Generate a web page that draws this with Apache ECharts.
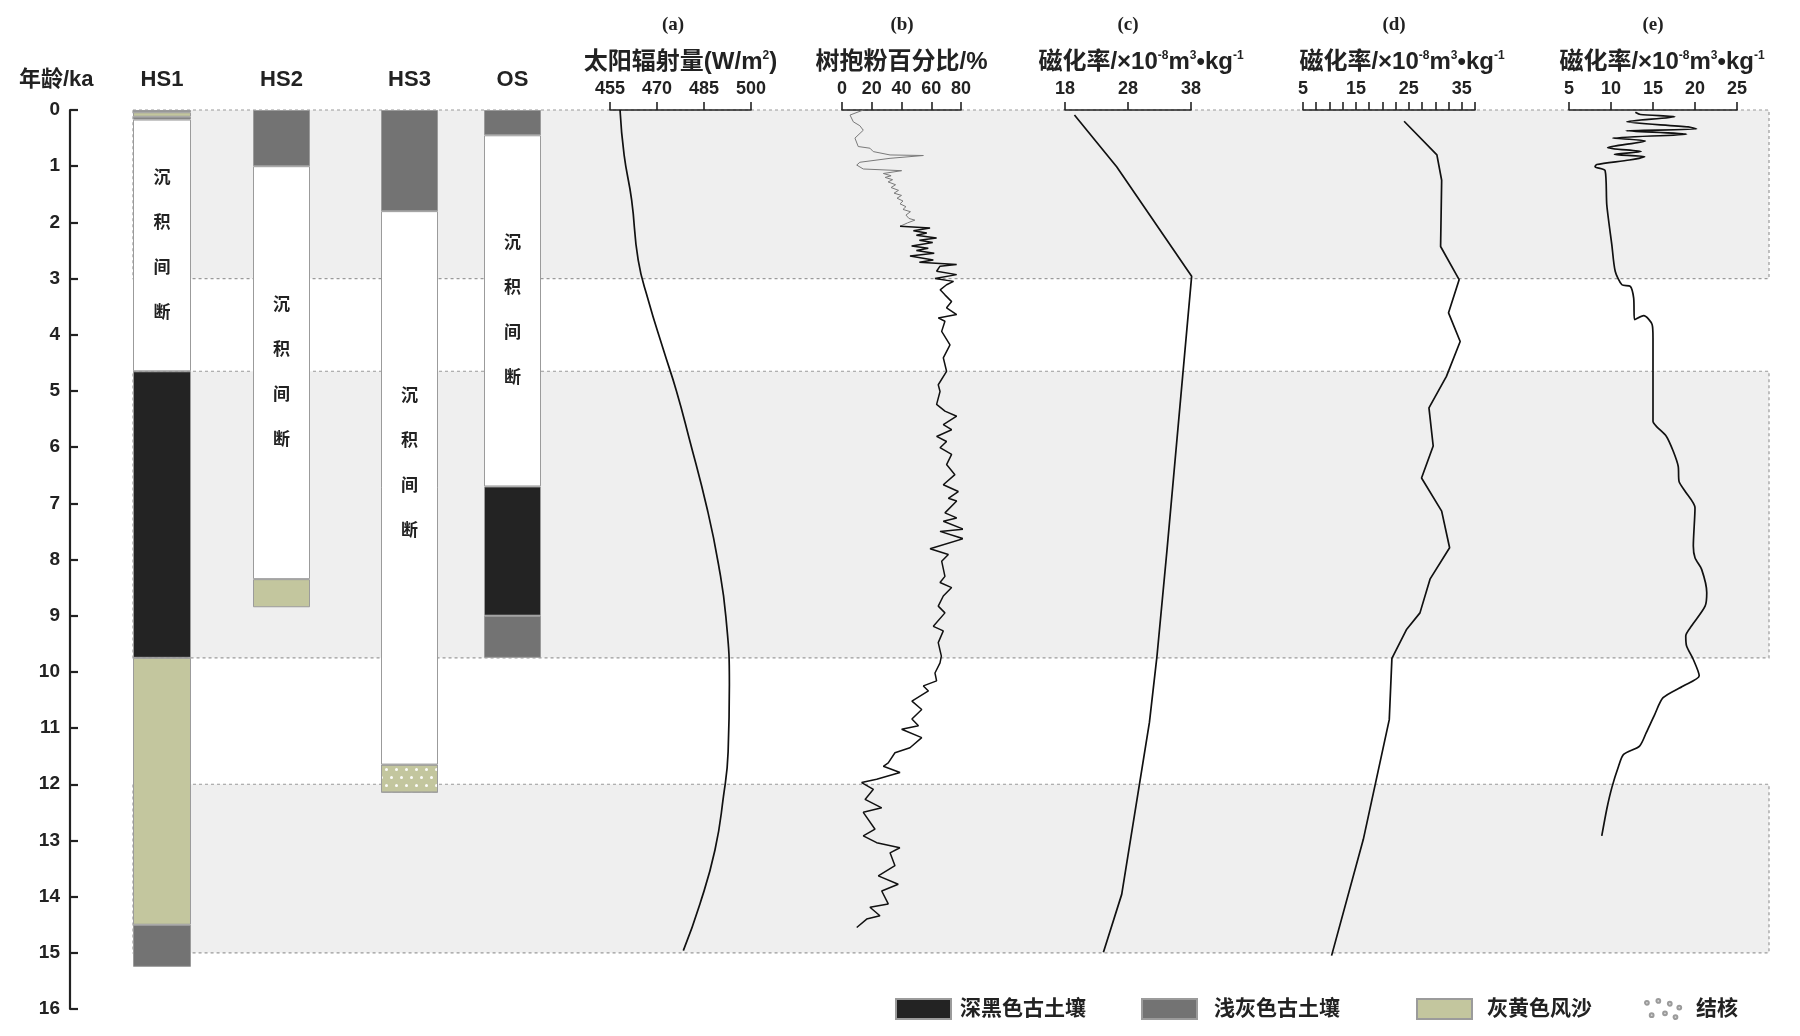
<!DOCTYPE html>
<html>
<head>
<meta charset="utf-8">
<title>剖面对比</title>
<script src="https://cdn.jsdelivr.net/npm/echarts@6/dist/echarts.min.js"></script>
<style>
  html, body { margin: 0; padding: 0; background: #fff; }
  #main { width: 1800px; height: 1036px; }
</style>
</head>
<body>
<div id="main"></div>
<script>
// ---- data ----
// soil columns: [type, top age (ka), bottom age (ka)]
const columnNames = ['HS1', 'HS2', 'HS3', 'OS']
const hs1Layers = [['gray', 0, 0.04], ['khaki', 0.04, 0.12], ['gray', 0.12, 0.17], ['gap', 0.17, 4.65],
  ['black', 4.65, 9.75], ['khaki', 9.75, 14.5], ['gray', 14.5, 15.25]]
const hs2Layers = [['gray', 0, 1.0], ['gap', 1.0, 8.35], ['khaki', 8.35, 8.85]]
const hs3Layers = [['gray', 0, 1.8], ['gap', 1.8, 11.65], ['nodule', 11.65, 12.15]]
const osLayers = [['gray', 0, 0.45], ['gap', 0.45, 6.7], ['black', 6.7, 9.0], ['gray', 9.0, 9.75]]

// shaded age bands (ka)
const bands = [[0, 3], [4.65, 9.75], [12, 15]]

// (a) solar radiation [W/m2, ka]
const solar = [[458.2, 0], [459.5, 0.8], [461.9, 1.6], [464.0, 2.67], [467.2, 3.38], [472.0, 4.26],
  [476.2, 5.0], [480.3, 5.85], [486.1, 7.12], [489.6, 8.08], [492.0, 9.03], [493.1, 10.23],
  [492.7, 11.42], [491.2, 12.22], [488.5, 13.17], [483.7, 14.13], [478.4, 14.96]]

// (b) tree pollen % [%, ka], upper part drawn in grey
const pollenUpper = [[14.3, 0.0], [5.4, 0.09], [7.6, 0.21], [12, 0.28], [14.3, 0.36], [8.7, 0.5],
  [10.9, 0.65], [18.8, 0.68], [21, 0.74], [32.3, 0.8], [54.7, 0.81], [32.3, 0.86], [12, 0.93],
  [9.9, 0.98], [14.3, 1.05], [40.1, 1.08], [27.8, 1.13], [33, 1.17], [29, 1.2], [34, 1.24],
  [31, 1.28], [36, 1.33], [33, 1.38], [38, 1.43], [35, 1.48], [40, 1.52], [37, 1.57], [41, 1.62],
  [39, 1.67], [43, 1.72], [41, 1.77], [46, 1.81], [43, 1.87], [45, 1.93], [49, 1.96], [44, 2.01],
  [39, 2.07]]
const pollenLower = [[39, 2.07], [59.2, 2.1], [48, 2.15], [57, 2.19], [50, 2.23], [63.6, 2.28],
  [52, 2.32], [61, 2.36], [46.8, 2.42], [58, 2.46], [50, 2.5], [62, 2.55], [45.7, 2.6], [61.4, 2.67],
  [52, 2.71], [77.1, 2.75], [65.9, 2.78], [63.6, 2.87], [77.1, 2.93], [62.5, 3.0], [75, 3.05],
  [70.3, 3.11], [66, 3.2], [69.2, 3.29], [73.7, 3.41], [70.3, 3.52], [77.1, 3.64], [64.7, 3.7],
  [69.2, 3.76], [67, 3.94], [72.6, 4.18], [68.1, 4.41], [70.3, 4.65], [64.7, 4.89], [65.9, 5.01],
  [63.6, 5.24], [69.2, 5.36], [77.1, 5.45], [68.1, 5.6], [73.7, 5.69], [63.6, 5.81], [70.3, 5.9],
  [65.9, 6.01], [73.7, 6.13], [70.3, 6.31], [75.9, 6.49], [68.1, 6.67], [78.2, 6.79], [71.5, 6.91],
  [77.1, 6.96], [69.2, 7.17], [77.1, 7.26], [68.1, 7.32], [81.6, 7.46], [65.9, 7.5], [81.6, 7.63],
  [59.2, 7.81], [71.5, 7.91], [67, 8.03], [69.2, 8.3], [65.9, 8.41], [73.7, 8.5], [68.1, 8.65],
  [64.7, 8.83], [69.2, 8.95], [61.4, 9.19], [68.1, 9.27], [64.7, 9.48], [66.8, 9.72], [65.9, 9.84],
  [62.5, 10.02], [63.6, 10.16], [54.7, 10.25], [58.1, 10.34], [47, 10.52], [53.6, 10.67], [47, 10.84],
  [51.4, 10.96], [40.1, 11.02], [53.6, 11.17], [45.7, 11.35], [35.6, 11.44], [31.1, 11.62],
  [27.8, 11.68], [39, 11.79], [23.3, 11.91], [13.2, 11.97], [21.1, 12.09], [15.5, 12.27],
  [26.7, 12.42], [14.3, 12.5], [22.2, 12.8], [14.3, 12.92], [23.3, 13.04], [38.9, 13.13],
  [32.3, 13.22], [35.6, 13.45], [24.4, 13.63], [37.8, 13.78], [26.7, 13.9], [31.1, 14.13],
  [18.8, 14.19], [25.5, 14.34], [16.6, 14.4], [9.9, 14.55]]

// (c)(d)(e) magnetic susceptibility [1e-8 m3/kg, ka]
const suscC = [[19.5, 0.09], [26.2, 1.01], [38.1, 2.96], [34.2, 7.82], [32.6, 9.72], [31.4, 10.9],
  [27.0, 13.96], [24.1, 14.99]]
const suscD = [[24.1, 0.2], [30.3, 0.8], [31.2, 1.25], [31.0, 2.43], [34.5, 3.02], [32.5, 3.61],
  [34.7, 4.12], [32.1, 4.74], [28.8, 5.3], [29.6, 5.98], [27.4, 6.55], [31.2, 7.14], [32.7, 7.79],
  [29.0, 8.35], [27.1, 8.95], [24.6, 9.24], [21.8, 9.76], [21.3, 10.85], [16.4, 12.98], [10.4, 15.05]]
const suscE = [[12.9, 0.04], [13.5, 0.08], [17.6, 0.12], [11.9, 0.21], [19.2, 0.3], [20.2, 0.34],
  [11.8, 0.37], [19, 0.43], [10.2, 0.5], [14.1, 0.55], [9.6, 0.67], [13.6, 0.74], [10.4, 0.79],
  [14, 0.83], [12.2, 0.89], [8.3, 0.97], [8.1, 1.01], [9.3, 1.08], [9.5, 1.69], [10.1, 2.4],
  [10.5, 2.87], [11.3, 3.11], [12.3, 3.14], [12.7, 3.35], [12.8, 3.73], [13.9, 3.66], [14.9, 3.82],
  [15.0, 4.06], [15.0, 5.54], [15.4, 5.63], [16.6, 5.81], [17.4, 6.07], [18, 6.34], [18.1, 6.61],
  [18.8, 6.78], [20.0, 7.08], [19.8, 7.76], [20.0, 7.97], [20.8, 8.18], [21.4, 8.59], [21.2, 8.83],
  [19.6, 9.18], [18.9, 9.36], [19.0, 9.54], [19.8, 9.78], [20.5, 10.07], [18.6, 10.25], [16.2, 10.46],
  [15.2, 10.76], [14.2, 11.08], [13.4, 11.32], [11.5, 11.47], [10.9, 11.68], [10.1, 12.06],
  [9.5, 12.44], [8.9, 12.92]]

// axis ticks
const solarTicks = [455, 470, 485, 500]
const pollenTicks = [0, 20, 40, 60, 80]
const suscCTicks = [18, 28, 38]
const suscDTicks = [5, 7.5, 10, 12.5, 15, 17.5, 20, 22.5, 25, 27.5, 30, 32.5, 35, 37.5]
const suscDLabels = [5, 15, 25, 35]
const suscETicks = [5, 10, 15, 20, 25]

const legendNames = ['深黑色古土壤', '浅灰色古土壤', '灰黄色风沙', '结核']
const panelTitles = ['(a)', '(b)', '(c)', '(d)', '(e)']

// ---- styles ----
const FONT = "'Liberation Sans', 'Noto Sans CJK SC', sans-serif"
const INK = '#222'
const soilColor = { black: '#232323', gray: '#737373', khaki: '#c3c69e', nodule: '#c3c69e', gap: '#ffffff' }
const soilName = { black: legendNames[0], gray: legendNames[1], khaki: legendNames[2], nodule: legendNames[3], gap: '沉积间断' }
const nodDecal = { symbol: 'circle', symbolSize: 1, color: 'rgba(255,255,255,0.95)',
  dashArrayX: [[3, 7], [0, 5, 3, 2]], dashArrayY: [3, 5] }

const TOP = 110, BOTTOM = 27
const colBoxes = [[133, 58], [253, 57], [381, 57], [484, 57]]
const colLabelShift = [0, 0, -24, 0]
const panels = [
  { left: 610, width: 141, min: 455, max: 500, ticks: solarTicks, labels: solarTicks,
    name: '太阳辐射量(W/m{sup|2})', pad: 0 },
  { left: 842, width: 119, min: 0, max: 80, ticks: pollenTicks, labels: pollenTicks,
    name: '树抱粉百分比/%', pad: 0 },
  { left: 1065, width: 126, min: 18, max: 38, ticks: suscCTicks, labels: suscCTicks,
    name: '磁化率/×10{sup|-8}m{sup|3}•kg{sup|-1}', pad: 26 },
  { left: 1303, width: 172, min: 5, max: 37.5, ticks: suscDTicks, labels: suscDLabels,
    name: '磁化率/×10{sup|-8}m{sup|3}•kg{sup|-1}', pad: 26 },
  { left: 1569, width: 168, min: 5, max: 25, ticks: suscETicks, labels: suscETicks,
    name: '磁化率/×10{sup|-8}m{sup|3}•kg{sup|-1}', pad: 18 }
]

const chart = echarts.init(document.getElementById('main'))

const grid = [], xAxis = [], yAxis = [], series = []
const ageAxis = (i, show) => ({
  type: 'value', gridIndex: i, min: 0, max: 16, interval: 1, inverse: true, show: show,
  splitLine: { show: false },
  axisLine: { show: true, lineStyle: { color: INK, width: 2.2 } },
  axisTick: { show: true, inside: true, length: 8, lineStyle: { color: INK, width: 2.2 } },
  axisLabel: { color: INK, fontFamily: FONT, fontWeight: 'bold', fontSize: 19, margin: 10 }
})

// 0: age axis
grid.push({ left: 70, width: 2, top: TOP, bottom: BOTTOM })
xAxis.push({ type: 'value', gridIndex: 0, show: false, min: 0, max: 1 })
yAxis.push(ageAxis(0, true))

// 1: shaded bands
grid.push({ left: 133, right: 31, top: TOP, bottom: BOTTOM })
xAxis.push({ type: 'value', gridIndex: 1, show: false, min: 0, max: 1 })
yAxis.push(ageAxis(1, false))
series.push({
  type: 'custom', xAxisIndex: 1, yAxisIndex: 1, z: 0, silent: true,
  data: bands.map(b => [0, b[0], b[1]]),
  renderItem: (params, api) => {
    const cs = params.coordSys
    const y0 = api.coord([0, api.value(1)])[1]
    const y1 = api.coord([0, api.value(2)])[1]
    return { type: 'rect', shape: { x: cs.x, y: y0, width: cs.width, height: y1 - y0 },
      style: { fill: '#efefef', stroke: '#9a9a9a', lineWidth: 1.2, lineDash: [3, 3] } }
  }
})

// 2-5: soil columns
const allLayers = [hs1Layers, hs2Layers, hs3Layers, osLayers]
columnNames.forEach((col, k) => {
  const gi = grid.length
  grid.push({ left: colBoxes[k][0], width: colBoxes[k][1], top: TOP, bottom: BOTTOM })
  xAxis.push({ type: 'category', gridIndex: gi, data: [col], position: 'top',
    axisLine: { show: false }, axisTick: { show: false },
    axisLabel: { color: INK, fontFamily: FONT, fontWeight: 'bold', fontSize: 22, margin: 19 } })
  yAxis.push(ageAxis(gi, false))
  allLayers[k].forEach(([type, top, bottom]) => {
    series.push({
      type: 'bar', name: soilName[type], xAxisIndex: gi, yAxisIndex: gi, stack: col, z: 3,
      barWidth: '100%', silent: true,
      data: [+(bottom - top).toFixed(3)],
      itemStyle: Object.assign({ color: soilColor[type], borderColor: '#9b9b9b', borderWidth: 1 },
        type === 'nodule' ? { decal: nodDecal } : {}),
      label: type === 'gap' ? {
        show: true, position: 'inside', formatter: '沉\n积\n间\n断', offset: [0, colLabelShift[k]],
        color: INK, fontFamily: FONT, fontWeight: 'bold', fontSize: 17, lineHeight: 45
      } : { show: false }
    })
  })
})

// 6-10: curve panels
const curves = [[solar], [pollenUpper, pollenLower], [suscC], [suscD], [suscE]]
panels.forEach((p, k) => {
  const gi = grid.length
  grid.push({ left: p.left, width: p.width, top: TOP, bottom: BOTTOM })
  xAxis.push({
    type: 'value', gridIndex: gi, position: 'top', min: p.min, max: p.max,
    splitLine: { show: false },
    axisLine: { show: true, lineStyle: { color: INK, width: 1.6 } },
    axisTick: { show: true, length: 8, lineStyle: { color: INK, width: 1.6 }, customValues: p.ticks },
    axisLabel: { color: INK, fontFamily: FONT, fontWeight: 'bold', fontSize: 18, margin: 12,
      customValues: p.labels },
    name: p.name, nameLocation: 'middle', nameGap: 36,
    nameTextStyle: {
      color: INK, fontFamily: FONT, fontWeight: 'bold', fontSize: 24, padding: [0, 0, 0, p.pad],
      rich: { sup: { color: INK, fontFamily: FONT, fontWeight: 'bold', fontSize: 12, verticalAlign: 'top', lineHeight: 13 } }
    }
  })
  yAxis.push(ageAxis(gi, false))
  curves[k].forEach((d, j) => {
    const grey = k === 1 && j === 0
    series.push({
      type: 'line', xAxisIndex: gi, yAxisIndex: gi, z: 5, silent: true,
      data: d, symbol: 'none', clip: false,
      smooth: k === 0 ? true : (k === 4 ? 0.25 : false),
      lineStyle: { color: grey ? '#7a7a7a' : '#111', width: grey ? 1 : (k === 1 ? 1.5 : 1.7) }
    })
  })
})

// legend entries, one block each to match the spacing
const legendLefts = [890, 1136, 1411, 1639]
const legendPads = [4, 12, 10, 9]
const dotIcon = 'path://M1,4a2,2 0 1,0 4,0a2,2 0 1,0 -4,0Z M13,2a2,2 0 1,0 4,0a2,2 0 1,0 -4,0Z M25,5a2,2 0 1,0 4,0a2,2 0 1,0 -4,0Z M35,9a2,2 0 1,0 4,0a2,2 0 1,0 -4,0Z M6,17a2,2 0 1,0 4,0a2,2 0 1,0 -4,0Z M20,15a2,2 0 1,0 4,0a2,2 0 1,0 -4,0Z M31,19a2,2 0 1,0 4,0a2,2 0 1,0 -4,0Z'
const legend = legendNames.map((n, i) => ({
  left: legendLefts[i], top: 993, selectedMode: false,
  itemWidth: i === 3 ? 38 : 55, itemHeight: 20,
  data: [i === 3 ? { name: n, icon: dotIcon, itemStyle: { color: '#d6d6d6', decal: 'none' } } : { name: n, icon: 'rect' }],
  textStyle: { color: INK, fontFamily: FONT, fontWeight: 'bold', fontSize: 21, padding: [0, 0, 0, legendPads[i]] }
}))

const titleCenters = [673, 902, 1128, 1394, 1653]
const graphic = panelTitles.map((t, i) => ({
  type: 'text', x: titleCenters[i], y: 25, silent: true,
  style: { text: t, align: 'center', verticalAlign: 'middle', fill: INK,
    font: "bold 19px 'Liberation Serif', serif" }
}))
graphic.push({
  type: 'text', x: 19, y: 80, silent: true,
  style: { text: '年龄/ka', align: 'left', verticalAlign: 'middle', fill: INK,
    font: "bold 22px 'Liberation Sans', 'Noto Sans CJK SC', sans-serif" }
})

chart.setOption({
  animation: false,
  backgroundColor: '#fff',
  textStyle: { fontFamily: FONT },
  grid, xAxis, yAxis, series, legend, graphic
})
</script>
</body>
</html>
